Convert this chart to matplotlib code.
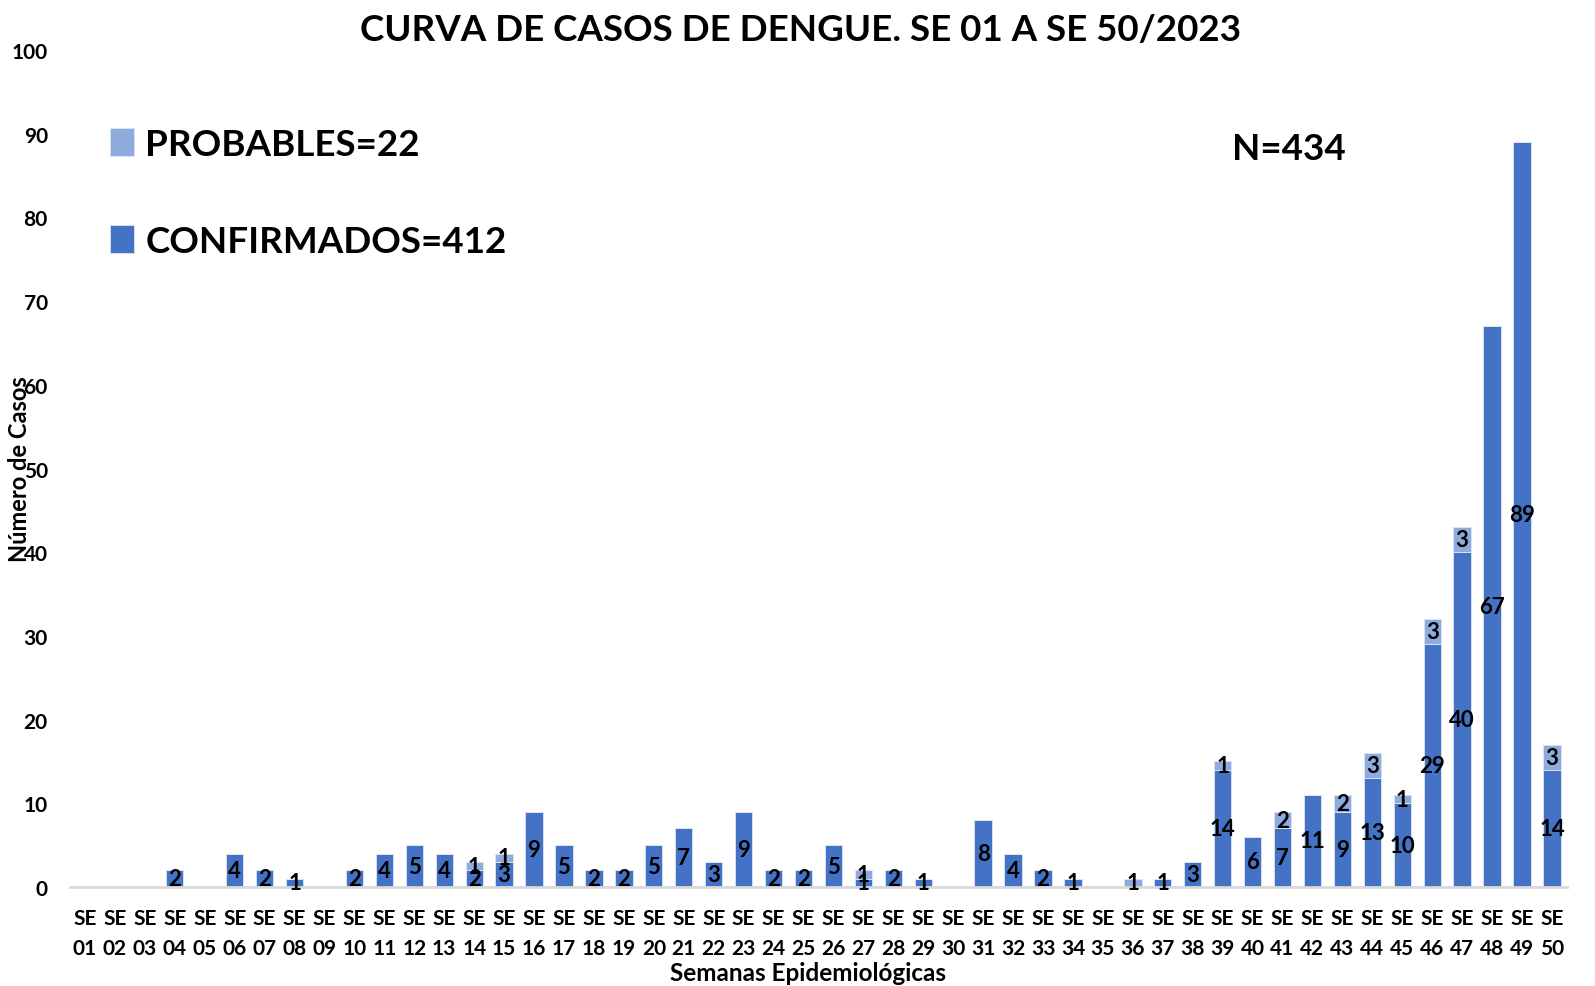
import numpy as np
import matplotlib
matplotlib.use("Agg")
import matplotlib.pyplot as plt

plt.rcParams['font.family'] = ['Lato', 'DejaVu Sans']

semanas = ["SE\n%02d" % i for i in range(1, 51)]
confirmados = [0, 0, 0, 2, 0, 4, 2, 1, 0, 2,
               4, 5, 4, 2, 3, 9, 5, 2, 2, 5,
               7, 3, 9, 2, 2, 5, 1, 2, 1, 0,
               8, 4, 2, 1, 0, 0, 1, 3, 14, 6,
               7, 11, 9, 13, 10, 29, 40, 67, 89, 14]
probables = [0, 0, 0, 0, 0, 0, 0, 0, 0, 0,
             0, 0, 0, 1, 1, 0, 0, 0, 0, 0,
             0, 0, 0, 0, 0, 0, 1, 0, 0, 0,
             0, 0, 0, 0, 0, 1, 0, 0, 1, 0,
             2, 0, 2, 3, 1, 3, 3, 0, 0, 3]

conf = np.array(confirmados)
prob = np.array(probables)
x = np.arange(len(semanas))

fig = plt.figure(figsize=(15.95, 9.87), dpi=100)
ax = fig.add_axes([0.0439, 0.1003, 0.9385, 0.848])

c_conf = '#4472C4'
c_prob = '#8FAADC'
b1 = ax.bar(x, conf, width=0.58, color=c_conf, edgecolor='#dce6f4', linewidth=0.6)
b2 = ax.bar(x, prob, width=0.58, bottom=conf, color=c_prob, edgecolor='#dce6f4', linewidth=0.6)

# etiquetas de datos centradas en cada segmento
for i in range(len(x)):
    if conf[i] > 0:
        ax.text(x[i], conf[i] / 2, str(conf[i]), ha='center', va='center',
                fontsize=16, fontweight='bold')
    if prob[i] > 0:
        ax.text(x[i], conf[i] + prob[i] / 2, str(prob[i]), ha='center', va='center',
                fontsize=16, fontweight='bold')

ax.set_xlim(-0.5, len(x) - 0.5)
ax.set_ylim(0, 100)
ax.set_yticks(range(0, 101, 10))
ax.set_xticks(x)
ax.set_xticklabels(semanas, fontsize=15, fontweight='bold', linespacing=1.65)
for lab in ax.get_yticklabels():
    lab.set_fontweight('bold')
    lab.set_fontsize(15)
ax.tick_params(axis='both', length=0)
ax.tick_params(axis='y', pad=16)
ax.tick_params(axis='x', pad=15)

for s in ['top', 'right', 'left']:
    ax.spines[s].set_visible(False)
ax.spines['bottom'].set_color('#d9d9d9')
ax.spines['bottom'].set_linewidth(2)

ax.set_title("CURVA DE CASOS DE DENGUE. SE 01 A SE 50/2023", fontsize=26.5,
             fontweight='bold', x=0.488, y=1.012, pad=0)
ax.set_xlabel("Semanas Epidemiológicas", fontsize=17.5, fontweight='bold')
ax.xaxis.set_label_coords(0.493, -0.089)
ax.set_ylabel("Número de Casos", fontsize=17, fontweight='bold')
ax.yaxis.set_label_coords(-0.026, 0.5)

leg = ax.legend([b2, b1], ["PROBABLES=22", "CONFIRMADOS=412"],
                loc='upper left', bbox_to_anchor=(0.017, 0.925), frameon=False,
                prop={'size': 26.5, 'weight': 'bold'}, handlelength=0.65,
                handleheight=0.8, handletextpad=0.3, labelspacing=1.75,
                borderaxespad=0)

ax.text(0.776, 0.882, "N=434", transform=ax.transAxes, fontsize=26.5,
        fontweight='bold', ha='left', va='center')

fig.savefig("out.png", dpi=100)
